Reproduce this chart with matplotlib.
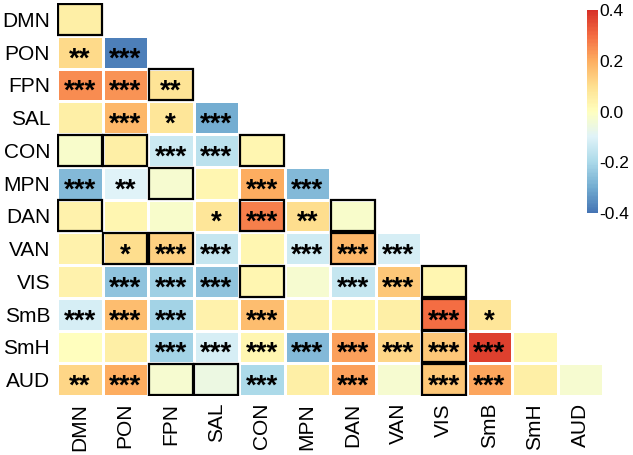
import numpy as np
import matplotlib
import matplotlib.pyplot as plt
import matplotlib.patches as patches
from matplotlib.colors import LinearSegmentedColormap

matplotlib.use("Agg")
plt.rcParams["font.family"] = ["Liberation Sans", "DejaVu Sans"]

networks = ["DMN", "PON", "FPN", "SAL", "CON", "MPN",
            "DAN", "VAN", "VIS", "SmB", "SmH", "AUD"]

# lower triangle (row i has i+1 values)
corr_rows = [
    [0.05],
    [0.11, -0.38],
    [0.25, 0.24, 0.09],
    [0.05, 0.18, 0.08, -0.30],
    [-0.02, 0.05, -0.14, -0.17, 0.03],
    [-0.27, -0.10, -0.03, 0.03, 0.20, -0.27],
    [0.04, 0.03, -0.02, 0.08, 0.27, 0.10, -0.02],
    [0.04, 0.10, 0.13, -0.15, 0.03, -0.13, 0.18, -0.12],
    [0.04, -0.25, -0.22, -0.25, 0.03, -0.03, -0.15, 0.15, 0.03],
    [-0.12, 0.17, -0.21, 0.04, 0.17, 0.04, 0.03, 0.05, 0.30, 0.08],
    [0.00, 0.05, -0.21, -0.12, 0.03, -0.27, 0.22, 0.12, 0.15, 0.37, 0.02],
    [0.12, 0.20, -0.03, -0.06, -0.20, 0.05, 0.22, -0.03, 0.15, 0.21, 0.05, -0.03],
]

stars_rows = [
    [""],
    ["**", "***"],
    ["***", "***", "**"],
    ["", "***", "*", "***"],
    ["", "", "***", "***", ""],
    ["***", "**", "", "", "***", "***"],
    ["", "", "", "*", "***", "**", ""],
    ["", "*", "***", "***", "", "***", "***", "***"],
    ["", "***", "***", "***", "", "", "***", "***", ""],
    ["***", "***", "***", "", "***", "", "", "", "***", "*"],
    ["", "", "***", "***", "***", "***", "***", "***", "***", "***", ""],
    ["**", "***", "", "", "***", "", "***", "", "***", "***", "", ""],
]

boxed = [(0, 0), (2, 2), (4, 0), (4, 1), (4, 4), (5, 2), (6, 0), (6, 4), (6, 6),
         (7, 1), (7, 2), (7, 6), (8, 4), (8, 8), (9, 8), (10, 8),
         (11, 2), (11, 3), (11, 8)]

n = len(networks)
mat = np.full((n, n), np.nan)
for i, row in enumerate(corr_rows):
    mat[i, :len(row)] = row

base = plt.get_cmap("RdYlBu_r")
cmap = LinearSegmentedColormap.from_list(
    "trunc", base(np.linspace(0.1, 0.9, 256)))

W, H = 633, 455
fig = plt.figure(figsize=(W / 100, H / 100), dpi=100)
ax = fig.add_axes([57 / W, (H - 396) / H, 546 / W, 393 / H])

mesh = ax.pcolormesh(np.ma.masked_invalid(mat), cmap=cmap, vmin=-0.4, vmax=0.4,
                     edgecolors="white", linewidth=1.0)
ax.set_xlim(0, n)
ax.set_ylim(n, 0)

for i, row in enumerate(stars_rows):
    for j, s in enumerate(row):
        if s:
            ax.text(j + 0.5, i + 0.72, s, ha="center", va="center",
                    fontsize=20, fontweight="bold", color="black")

for (i, j) in boxed:
    ax.add_patch(patches.Rectangle((j + 0.02, i + 0.03), 0.96, 0.94, fill=False,
                                   edgecolor="black", linewidth=1.6, zorder=3))

ax.set_xticks(np.arange(n) + 0.5)
ax.set_xticklabels(networks, rotation=90, fontsize=15)
ax.set_yticks(np.arange(n) + 0.5)
ax.set_yticklabels(networks, fontsize=15)
ax.tick_params(length=0, pad=5)
for sp in ax.spines.values():
    sp.set_visible(False)

cax = fig.add_axes([587 / W, (H - 213) / H, 11 / W, 203 / H])
cb = fig.colorbar(mesh, cax=cax, ticks=[-0.4, -0.2, 0.0, 0.2, 0.4])
cb.ax.set_yticklabels(["-0.4", "-0.2", "0.0", "0.2", "0.4"], fontsize=12.5)
cb.ax.tick_params(length=0, pad=1)
cb.outline.set_visible(False)

fig.savefig("out.png", dpi=100)
